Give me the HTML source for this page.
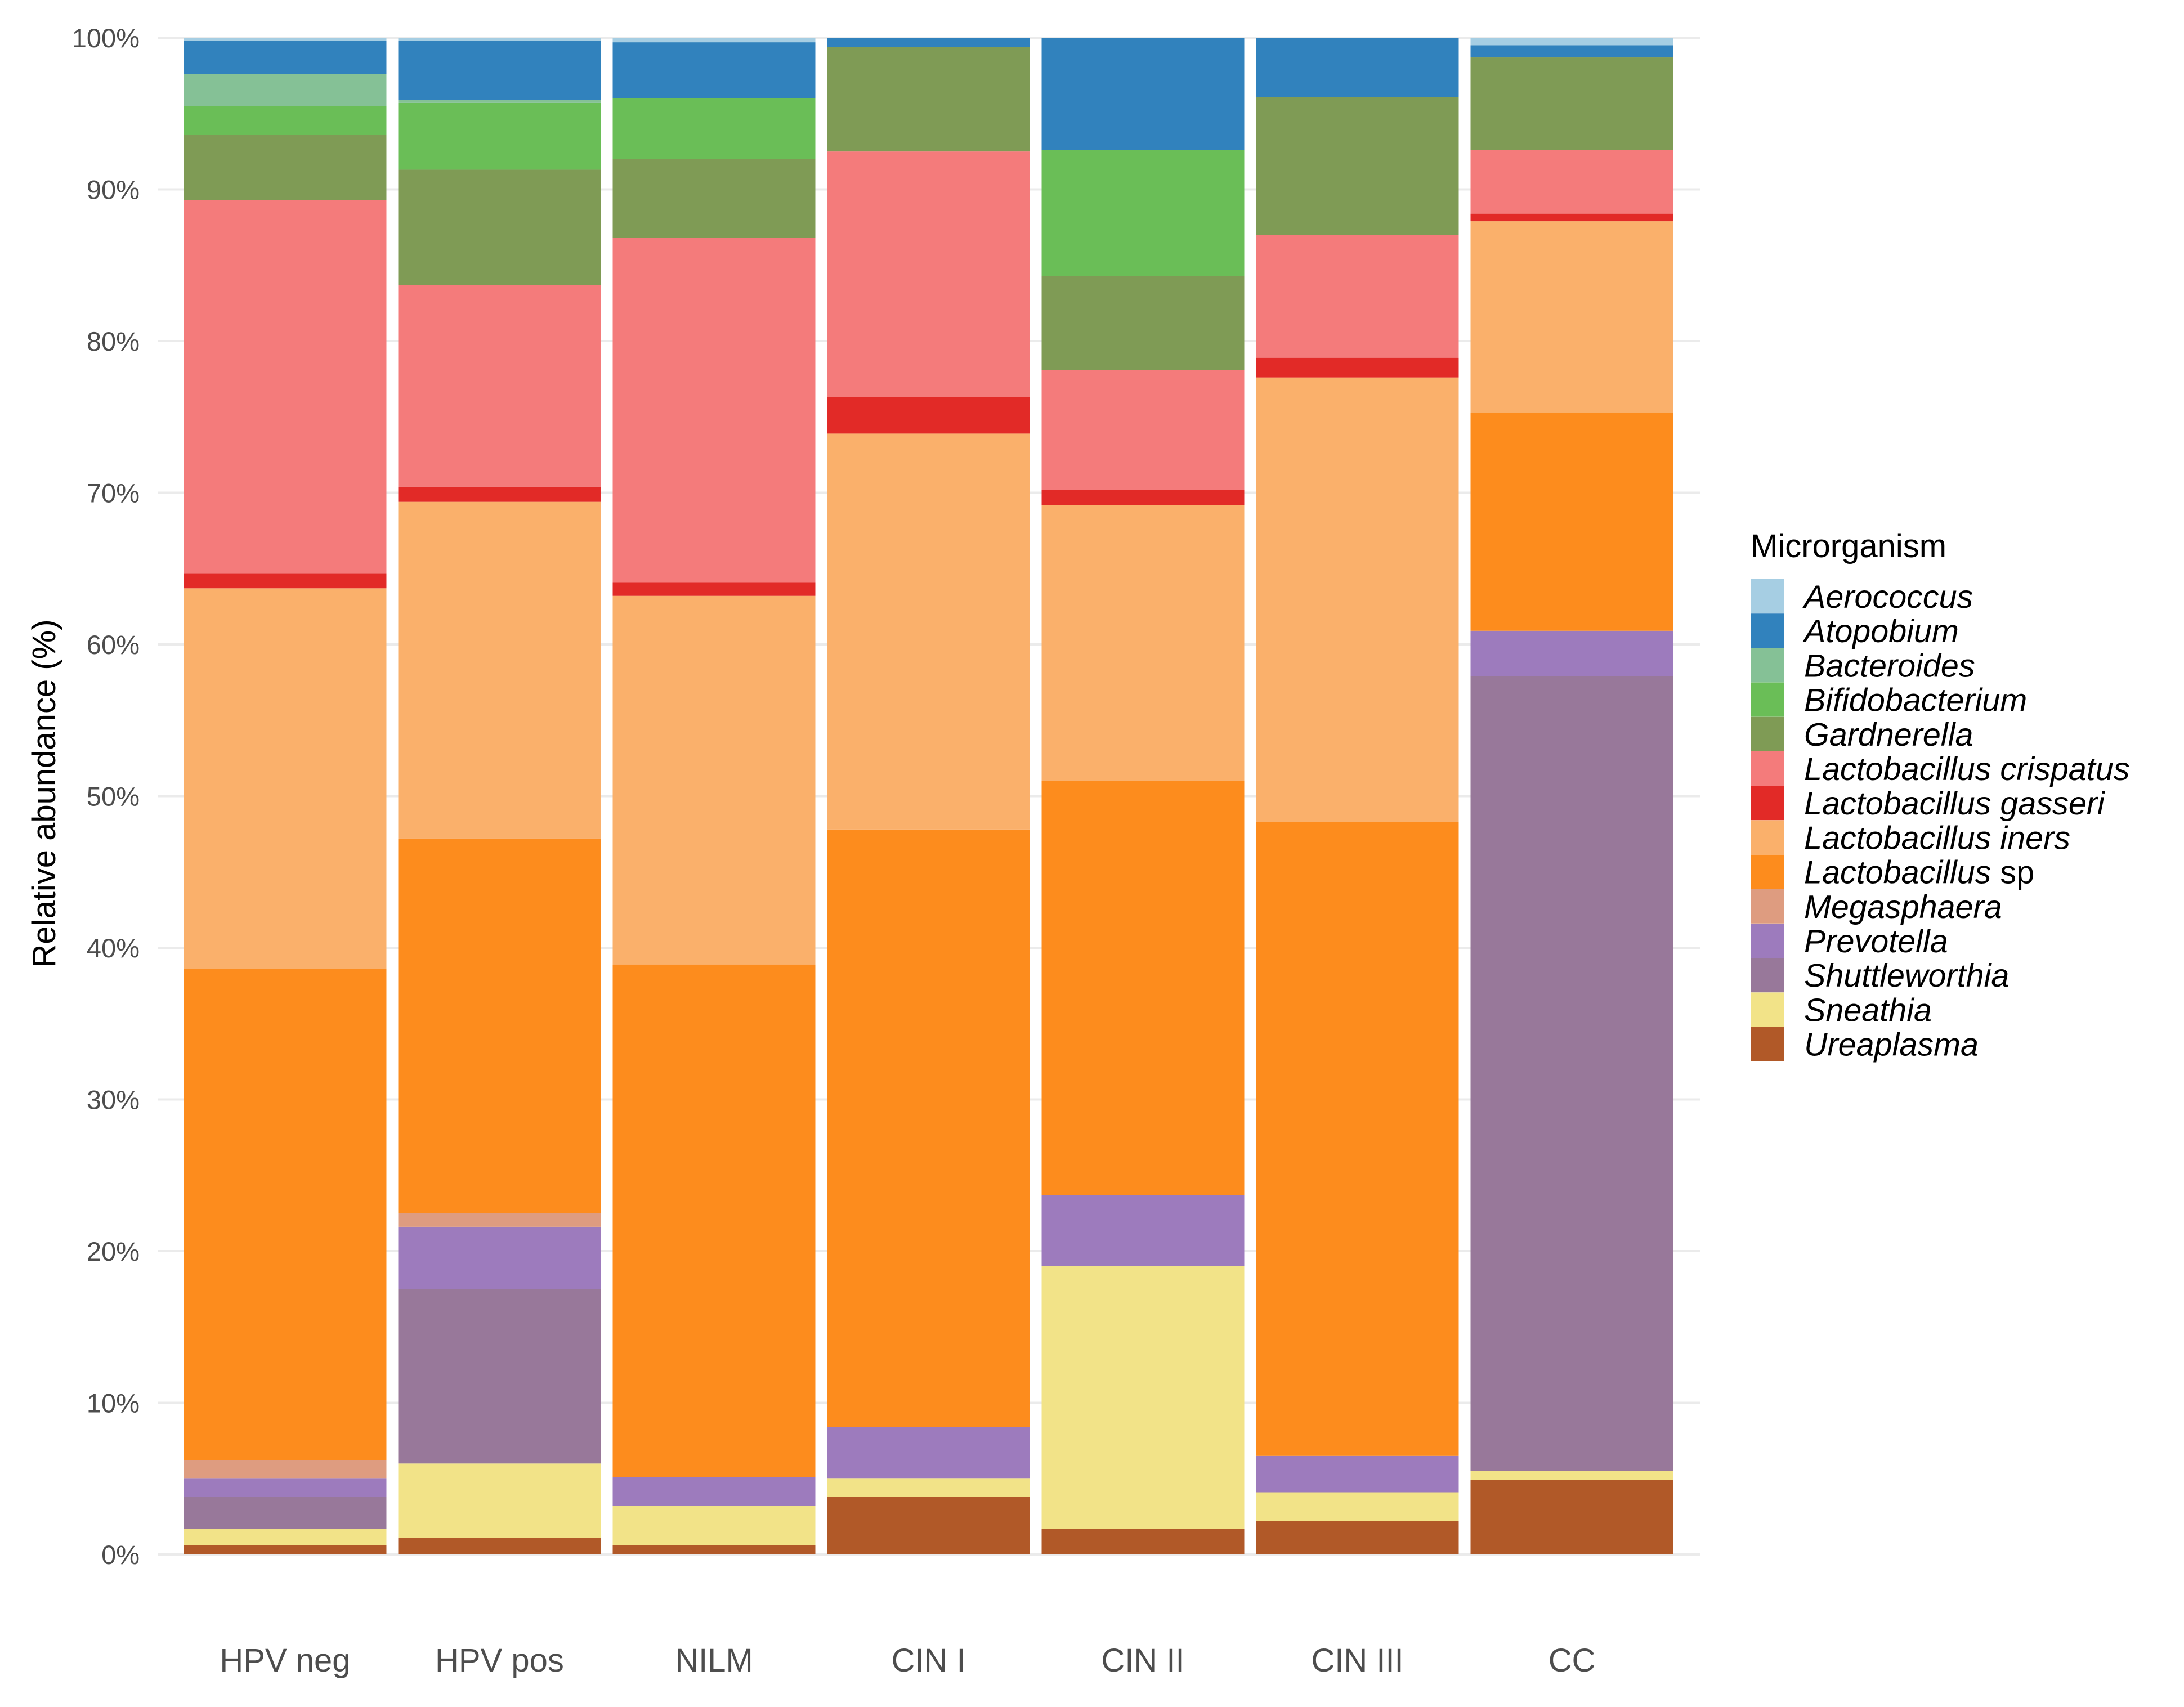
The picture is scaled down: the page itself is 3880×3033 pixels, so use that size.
<!DOCTYPE html>
<html><head><meta charset="utf-8"><style>
html,body{margin:0;padding:0;background:#fff;}
svg{display:block;font-family:"Liberation Sans",sans-serif;}
</style></head><body>
<svg id="chart" width="3880" height="3033" viewBox="0 0 3880 3033" xmlns="http://www.w3.org/2000/svg">
<rect x="0" y="0" width="3880" height="3033" fill="#fff"/>
<g id="grid"></g>
<g id="bars"></g>
<g id="yticks"></g>
<g id="xticks"></g>
<text transform="translate(98,1410) rotate(-90)" text-anchor="middle" font-size="58" fill="#000">Relative abundance (%)</text>
<g id="legend">
<text x="3110" y="990" font-size="58" fill="#000">Microrganism</text>
</g>
</svg>
<script>
const categories = ["HPV neg","HPV pos","NILM","CIN I","CIN II","CIN III","CC"];
const species = ["Ureaplasma","Sneathia","Shuttleworthia","Prevotella","Megasphaera","Lactobacillus sp","Lactobacillus iners","Lactobacillus gasseri","Lactobacillus crispatus","Gardnerella","Bifidobacterium","Bacteroides","Atopobium","Aerococcus"];
const colors = ["#b15928","#f2e388","#98789a","#9d7bbd","#de9c80","#fd8c1d","#fab06b","#e22a27","#f47b7b","#7f9b55","#6abe57","#85c196","#3182bd","#a6cee3"];
const hpvNeg  = [0.6,1.1,2.1,1.2,1.2,32.4,25.1,1.0,24.6,4.3,1.9,2.1,2.2,0.2];
const hpvPos  = [1.1,4.9,11.5,4.1,0.9,24.7,22.2,1.0,13.3,7.6,4.4,0.2,3.9,0.2];
const nilm    = [0.6,2.6,0.0,1.9,0.0,33.8,24.3,0.9,22.7,5.2,4.0,0.0,3.7,0.3];
const cin1    = [3.8,1.2,0.0,3.4,0.0,39.4,26.1,2.4,16.2,6.9,0.0,0.0,0.6,0.0];
const cin2    = [1.7,17.3,0.0,4.7,0.0,27.3,18.2,1.0,7.9,6.2,8.3,0.0,7.4,0.0];
const cin3    = [2.2,1.9,0.0,2.4,0.0,41.8,29.3,1.3,8.1,9.1,0.0,0.0,3.9,0.0];
const cc      = [4.9,0.6,52.4,3.0,0.0,14.4,12.6,0.5,4.2,6.1,0.0,0.0,0.8,0.5];
const seriesByCategory = [hpvNeg,hpvPos,nilm,cin1,cin2,cin3,cc];
const yTicks = [0,10,20,30,40,50,60,70,80,90,100];

const NS="http://www.w3.org/2000/svg";
const Y0=2762, Y100=67, X0=316, STEP=381, BARW=360;
function yScale(v){return Y0-(Y0-Y100)*v/100;}
function xCenter(i){return X0+STEP*(i+0.5);}
function mk(tag,attrs,parent){const e=document.createElementNS(NS,tag);for(const k in attrs)e.setAttribute(k,attrs[k]);parent.appendChild(e);return e;}

const grid=document.getElementById('grid'), yt=document.getElementById('yticks');
yTicks.forEach(t=>{
  const l=mk('line',{x1:280,x2:3020,y1:yScale(t),y2:yScale(t),stroke:"#ebebeb","stroke-width":4},grid);
  
  
  const tx=mk('text',{x:248,y:yScale(t)+17,"text-anchor":"end","font-size":47,fill:"#4d4d4d"},yt);
  tx.textContent=t+"%";
  
  
});
const bars=document.getElementById('bars'), xt=document.getElementById('xticks');
categories.forEach((c,i)=>{
  let cum=0; const vals=seriesByCategory[i];
  vals.forEach((v,j)=>{
    if(v<=0){cum+=v;return;}
    const yTop=yScale(cum+v), yBot=yScale(cum);
    const r=mk('rect',{x:xCenter(i)-BARW/2,y:yTop,width:BARW,height:yBot-yTop,fill:colors[j]},bars);
    
    
    cum+=v;
  });
  const tx=mk('text',{x:xCenter(i),y:2970,"text-anchor":"middle","font-size":58,fill:"#4d4d4d"},xt);
  tx.textContent=c;
  
  
});
const leg=document.getElementById('legend');
const order=species.slice().reverse(), ocol=colors.slice().reverse();
order.forEach((s,k)=>{
  const y=1029+k*61.2;
  const r=mk('rect',{x:3110,y:y,width:60,height:61,fill:ocol[k]},leg);
  
  
  const tx=mk('text',{x:3205,y:y+51,"font-size":57.5,"font-style":"italic",fill:"#000"},leg);
  if(s==="Lactobacillus sp"){tx.innerHTML='Lactobacillus <tspan font-style="normal">sp</tspan>';}
  else tx.textContent=s;
  
  
});
</script>
</body></html>
